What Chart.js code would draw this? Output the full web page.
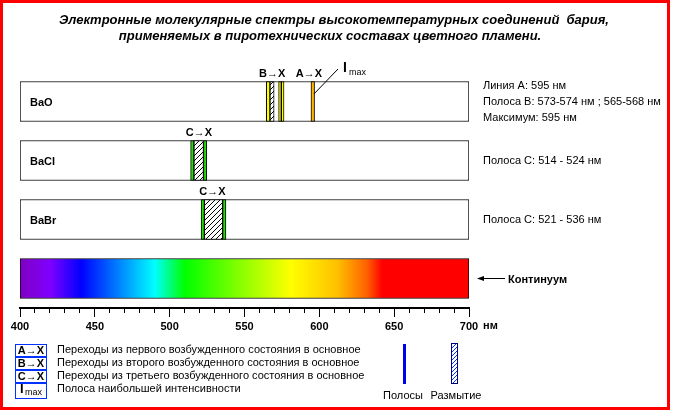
<!DOCTYPE html>
<html>
<head>
<meta charset="utf-8">
<style>
html, body { margin: 0; padding: 0; background: #fff; }
#wrap { position: relative; width: 673px; height: 410px; }
canvas { display: block; }
#frame { position: absolute; left: 0; top: 0; width: 670px; height: 410px; box-sizing: border-box;
         border: 3px solid #f00; pointer-events: none; }
</style>
</head>
<body>
<div id="wrap">
  <canvas id="spectra" width="673" height="410"></canvas>
  <div id="frame"></div>
</div>
<script src="https://cdn.jsdelivr.net/npm/chart.js"></script>
<script>
// rows of the diagram (last one is the continuum strip)
const rows = ['BaO', 'BaCl', 'BaBr', ''];

// band intervals, nm
const baoLineA = [[594.4, 596.8]];                                  // A→X, Imax
const baoBandsB = [[564.6, 567.0], [572.8, 574.6], [574.6, 576.4]]; // B→X
const baoBlurB = [[567.0, 569.8]];
const baclEdges = [[514.0, 516.2], [522.6, 524.8]];                 // C→X
const baclBlur = [[516.2, 522.6]];
const babrEdges = [[521.0, 523.2], [535.4, 537.6]];                 // C→X
const babrBlur = [[523.2, 535.4]];

// continuum colours
const specStops = [400, 420, 441, 490, 510, 545, 581, 612, 632, 642, 700];
const specColors = ['#8000c0', '#7f00ff', '#0000ff', '#00ffff', '#00ff00', '#80ff00',
                    '#ffff00', '#ffc000', '#ff6000', '#ff0000', '#ff0000'];

const FONT = "'Liberation Sans', Arial, sans-serif";
Chart.defaults.font.family = FONT;

function pts(list, row) {
  return list.map(r => ({ x: r, y: row }));
}

function hatch(color, step) {
  const p = document.createElement('canvas');
  p.width = step; p.height = step;
  const g = p.getContext('2d');
  g.fillStyle = '#fff';
  g.fillRect(0, 0, step, step);
  g.strokeStyle = color;
  g.lineWidth = 1;
  g.beginPath();
  g.moveTo(-1, step + 1); g.lineTo(step + 1, -1);
  g.stroke();
  return g.createPattern(p, 'repeat');
}
const blackHatch = hatch('#000', 5);

function spectrumFill(ctx) {
  const chart = ctx.chart;
  if (!ctx.raw || ctx.raw.y !== '') return '#fff';
  const x = chart.scales.x;
  if (!x || !chart.chartArea) return '#f00';
  const x0 = x.getPixelForValue(400), x1 = x.getPixelForValue(700);
  const gr = chart.ctx.createLinearGradient(x0, 0, x1, 0);
  specStops.forEach((s, i) => gr.addColorStop((s - 400) / 300, specColors[i]));
  return gr;
}

const bandCommon = { barThickness: 40, borderColor: '#000', borderWidth: 1, borderSkipped: false, grouped: false };

const annotate = {
  id: 'annotate',
  afterDraw(chart) {
    const c = chart.ctx, x = chart.scales.x, y = chart.scales.y;
    c.save();
    c.fillStyle = '#000';
    c.textBaseline = 'middle';

    // row names inside the boxes
    c.textAlign = 'left';
    c.font = "bold 11px " + FONT;
    rows.forEach((r, i) => { if (r) c.fillText(r, x.left + 10, y.getPixelForValue(i) + 1); });

    // title
    c.textAlign = 'center';
    c.font = "italic bold 13px " + FONT;
    c.fillText('Электронные молекулярные спектры высокотемпературных соединений  бария,', 334, 20);
    c.fillText('применяемых в пиротехнических составах цветного пламени.', 330, 36);

    // transition labels above the boxes
    c.font = "bold 11px " + FONT;
    const top = r => y.getPixelForValue(r) - 20;
    c.fillText('B→X', x.getPixelForValue(568.5), top(0) - 8);
    c.fillText('A→X', x.getPixelForValue(593), top(0) - 8);
    c.fillText('C→X', x.getPixelForValue(519.5), top(1) - 8);
    c.fillText('C→X', x.getPixelForValue(528.5), top(2) - 8);

    // Imax with leader line
    c.textAlign = 'left';
    c.font = "bold 14px " + FONT;
    c.fillText('I', 343, 68);
    c.font = "9px " + FONT;
    c.fillText('max', 349, 73);
    c.strokeStyle = '#000';
    c.lineWidth = 1;
    c.beginPath();
    c.moveTo(338, 69); c.lineTo(x.getPixelForValue(596.4), 94);
    c.stroke();

    // notes at the right
    c.font = "11px " + FONT;
    c.fillText('Линия A: 595 нм', 483, 86);
    c.fillText('Полоса B: 573-574 нм ; 565-568 нм', 483, 102);
    c.fillText('Максимум: 595 нм', 483, 118);
    c.fillText('Полоса C: 514 - 524 нм', 483, y.getPixelForValue(1));
    c.fillText('Полоса C: 521 - 536 нм', 483, y.getPixelForValue(2));

    // continuum pointer
    const yc = y.getPixelForValue(3);
    c.beginPath();
    c.moveTo(480, yc); c.lineTo(505, yc);
    c.stroke();
    c.beginPath();
    c.moveTo(477, yc); c.lineTo(484, yc - 2.5); c.lineTo(484, yc + 2.5); c.closePath();
    c.fill();
    c.font = "bold 11px " + FONT;
    c.fillText('Континуум', 508, yc + 1);

    // unit after 700
    c.fillText('нм', 483, 326);

    // legend
    const blue = '#0033ff';
    const keys = [['A→X', 344, 356, 350, 'Переходы из первого возбужденного состояния в основное'],
                  ['B→X', 357, 369, 363, 'Переходы из второго возбужденного состояния в основное'],
                  ['C→X', 370, 382, 376, 'Переходы из третьего возбужденного состояния в основное'],
                  ['', 383, 398, 389, 'Полоса наибольшей интенсивности']];
    keys.forEach(k => {
      c.strokeStyle = blue;
      c.strokeRect(15.5, k[1] + 0.5, 31, k[2] - k[1]);
      c.fillStyle = '#000';
      c.font = "bold 11px " + FONT;
      c.textAlign = 'center';
      if (k[0]) c.fillText(k[0], 31, (k[1] + k[2]) / 2 + 1);
      c.textAlign = 'left';
      c.font = "11px " + FONT;
      c.fillText(k[4], 57, k[3]);
    });
    c.font = "bold 13px " + FONT;
    c.fillText('I', 20, 389);
    c.font = "9px " + FONT;
    c.fillText('max', 25, 393);

    // bands / blur key
    c.fillStyle = '#0000ee';
    c.fillRect(403, 344, 3, 40);
    c.save();
    c.beginPath();
    c.rect(452, 344, 6, 39);
    c.clip();
    c.fillStyle = hatch(blue, 4);
    c.fillRect(452, 344, 6, 39);
    c.restore();
    c.strokeStyle = '#000080';
    c.strokeRect(451.5, 343.5, 6, 40);
    c.fillStyle = '#000';
    c.font = "11px " + FONT;
    c.textAlign = 'center';
    c.fillText('Полосы', 403, 396);
    c.fillText('Размытие', 456, 396);
    c.restore();
  }
};

new Chart(document.getElementById('spectra'), {
  type: 'bar',
  data: {
    labels: rows,
    datasets: [
      { ...bandCommon, data: pts(baoLineA, 'BaO'), backgroundColor: '#ffb400' },
      { ...bandCommon, data: pts(baoBandsB, 'BaO'), backgroundColor: '#ffff00' },
      { ...bandCommon, data: [...pts(baclEdges, 'BaCl'), ...pts(babrEdges, 'BaBr')], backgroundColor: '#22dd00' },
      { ...bandCommon, data: [...pts(baoBlurB, 'BaO'), ...pts(baclBlur, 'BaCl'), ...pts(babrBlur, 'BaBr')],
        backgroundColor: blackHatch },
      { ...bandCommon, data: rows.map(r => ({ x: [400, 700], y: r })), backgroundColor: spectrumFill }
    ]
  },
  options: {
    indexAxis: 'y',
    responsive: false,
    animation: false,
    events: [],
    layout: { padding: { top: 72, left: 20, right: 204, bottom: 72 } },
    plugins: { legend: { display: false }, tooltip: { enabled: false } },
    scales: {
      x: {
        type: 'linear', min: 400, max: 700,
        afterFit: s => { s.height = 30; },
        border: { display: true, color: '#000', width: 2 },
        grid: {
          drawOnChartArea: false, tickLength: 9, tickColor: '#000', tickWidth: 1,
          tickBorderDash: ctx => (ctx.tick && ctx.tick.value % 50 === 0) ? [] : [4, 40]
        },
        ticks: {
          stepSize: 10, autoSkip: false, maxRotation: 0, padding: 3, color: '#000',
          font: { size: 11, weight: 'bold' },
          callback: v => (v % 50 === 0 ? v : '')
        }
      },
      y: {
        display: false
      }
    }
  },
  plugins: [annotate]
});
</script>
</body>
</html>
